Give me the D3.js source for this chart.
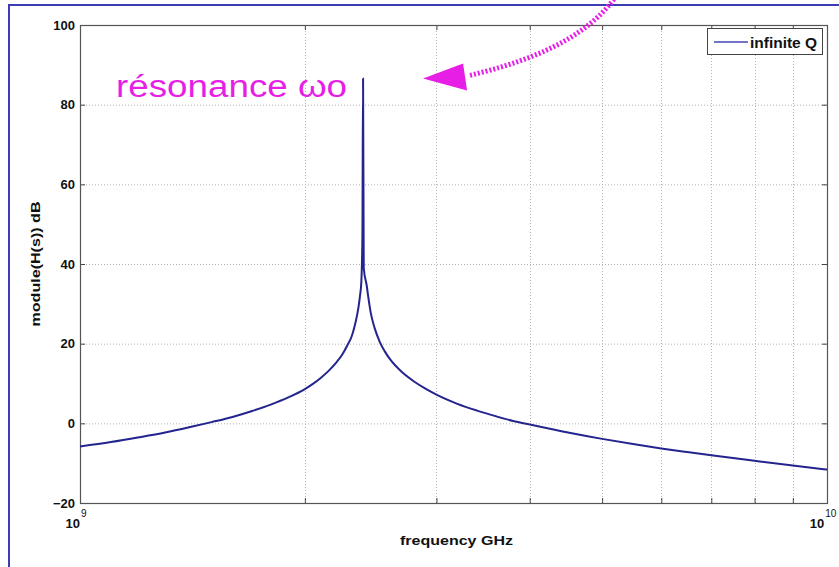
<!DOCTYPE html>
<html>
<head>
<meta charset="utf-8">
<script src="https://cdn.jsdelivr.net/npm/d3@7/dist/d3.min.js"></script>
<style>
  body { margin: 0; background: #ffffff; }
  text { font-family: "Liberation Sans", Arial, Helvetica, sans-serif; }
</style>
</head>
<body>
<svg id="chart" width="839" height="567"></svg>
<script>
// Frequency response of the resonator (frequency in GHz, magnitude in dB)
const freqGHz = [1.00, 1.10, 1.20, 1.30, 1.40, 1.50, 1.60, 1.70, 1.80, 1.90, 2.00, 2.05, 2.10, 2.15,
                 2.20, 2.25, 2.28, 2.31, 2.33, 2.35, 2.36, 2.37, 2.38, 2.388, 2.393, 2.398, 2.42,
                 2.43, 2.45, 2.48, 2.52, 2.56, 2.60, 2.70, 2.80, 2.90, 3.00, 3.20, 3.40, 3.60,
                 3.80, 4.00, 4.50, 5.00, 5.50, 6.00, 6.50, 7.00, 8.00, 9.00, 10.0];
const magDB = [-5.8, -4.7, -3.5, -2.3, -1.0, 0.3, 1.6, 3.1, 4.7, 6.5, 8.6, 9.9, 11.4, 13.1,
               15.1, 17.6, 19.6, 21.8, 24.2, 27.3, 29.3, 31.9, 35.4, 46.7, 86.6, 39.0, 34.6,
               32.1, 27.8, 23.9, 20.4, 18.0, 16.1, 12.8, 10.5, 8.7, 7.2, 4.9, 3.2, 1.8,
               0.6, -0.3, -2.3, -3.9, -5.2, -6.3, -7.2, -8.0, -9.4, -10.6, -11.6];

const seriesName = "infinite Q";
const yTicks = [-20, 0, 20, 40, 60, 80, 100];
const xMajor = [1e9, 1e10];
const xMinor = [2e9, 3e9, 4e9, 5e9, 6e9, 7e9, 8e9, 9e9];
const xLabel = "frequency GHz";
const yLabel = "module(H(s)) dB";
const note = "résonance ωo";

const svg = d3.select("#chart");
const W = 839, H = 567;
const plot = { left: 80, right: 827, top: 25, bottom: 503 };

const x = d3.scaleLog().domain([1e9, 1e10]).range([plot.left, plot.right]);
const y = d3.scaleLinear().domain([-20, 100]).range([plot.bottom, plot.top]);

// outer slide frame
svg.append("rect")
  .attr("x", 9).attr("y", 5).attr("width", W + 20).attr("height", H + 20)
  .attr("fill", "#ffffff").attr("stroke", "#3c3cb4").attr("stroke-width", 2);

// plot background
svg.append("rect")
  .attr("x", plot.left).attr("y", plot.top)
  .attr("width", plot.right - plot.left).attr("height", plot.bottom - plot.top)
  .attr("fill", "#ffffff");

// grid lines
const grid = svg.append("g").attr("stroke", "#b4b4b4").attr("stroke-width", 1)
  .attr("stroke-dasharray", "1,2");
grid.selectAll("line.gy").data(yTicks.filter(v => v > -20 && v < 100)).join("line")
  .attr("x1", plot.left).attr("x2", plot.right)
  .attr("y1", d => y(d) + 0.5).attr("y2", d => y(d) + 0.5);
grid.selectAll("line.gx").data(xMinor).join("line")
  .attr("x1", d => Math.round(x(d)) + 0.5).attr("x2", d => Math.round(x(d)) + 0.5)
  .attr("y1", plot.top).attr("y2", plot.bottom);

// axes with inward ticks
function styleAxis(g) {
  g.select(".domain").remove();
  g.selectAll(".tick line").attr("stroke", "#444");
  g.selectAll(".tick text").attr("font-weight", "bold").attr("font-size", 13)
    .attr("fill", "#111");
}
svg.append("g").attr("transform", `translate(${plot.left},0)`)
  .call(d3.axisLeft(y).tickValues(yTicks).tickSizeInner(-5).tickSizeOuter(0).tickPadding(5))
  .call(styleAxis);
svg.append("g").attr("transform", `translate(${plot.right},0)`)
  .call(d3.axisRight(y).tickValues(yTicks).tickSizeInner(-5).tickSizeOuter(0).tickFormat(""))
  .call(styleAxis);
svg.append("g").attr("transform", `translate(0,${plot.bottom})`)
  .call(d3.axisBottom(x).tickValues(xMinor).tickSizeInner(-5).tickSizeOuter(0).tickFormat(""))
  .call(styleAxis);
svg.append("g").attr("transform", `translate(0,${plot.top})`)
  .call(d3.axisTop(x).tickValues(xMinor).tickSizeInner(-5).tickSizeOuter(0).tickFormat(""))
  .call(styleAxis);

// plot box
svg.append("rect")
  .attr("x", plot.left + 0.5).attr("y", plot.top + 0.5)
  .attr("width", plot.right - plot.left).attr("height", plot.bottom - plot.top)
  .attr("fill", "none").attr("stroke", "#555").attr("stroke-width", 1.2);

// decade labels 10^n
const decade = svg.append("g").attr("fill", "#111");
xMajor.forEach(v => {
  const t = decade.append("text")
    .attr("x", x(v) - 4).attr("y", plot.bottom + 25)
    .attr("text-anchor", "middle").attr("font-weight", "bold").attr("font-size", 13);
  t.append("tspan").text("10");
  t.append("tspan").attr("dy", -11).attr("dx", 1).attr("font-size", 10)
    .attr("font-weight", "normal").text(Math.round(Math.log10(v)));
});

// axis titles
svg.append("text")
  .attr("x", (plot.left + plot.right) / 2 + 3).attr("y", 545)
  .attr("text-anchor", "middle").attr("font-weight", "bold").attr("font-size", 13)
  .attr("textLength", 113).attr("lengthAdjust", "spacingAndGlyphs")
  .attr("fill", "#111").text(xLabel);
svg.append("text")
  .attr("transform", `translate(40,${(plot.top + plot.bottom) / 2}) rotate(-90)`)
  .attr("text-anchor", "middle").attr("font-weight", "bold").attr("font-size", 13)
  .attr("textLength", 125).attr("lengthAdjust", "spacingAndGlyphs")
  .attr("fill", "#111").text(yLabel);

// response curve
const pts = freqGHz.map((f, i) => [f * 1e9, magDB[i]]);
svg.append("path")
  .datum(pts)
  .attr("fill", "none").attr("stroke", "#24248e").attr("stroke-width", 2)
  .attr("stroke-linejoin", "round")
  .attr("d", d3.line().x(d => x(d[0])).y(d => y(d[1])).curve(d3.curveMonotoneX));

// legend
const lg = svg.append("g");
lg.append("rect").attr("x", 707.5).attr("y", 28.5).attr("width", 115).attr("height", 26)
  .attr("fill", "#ffffff").attr("stroke", "#444").attr("stroke-width", 1);
lg.append("line").attr("x1", 714).attr("x2", 748).attr("y1", 42).attr("y2", 42)
  .attr("stroke", "#7474c4").attr("stroke-width", 2);
lg.append("text").attr("x", 750).attr("y", 48)
  .attr("font-weight", "bold").attr("font-size", 14)
  .attr("textLength", 67).attr("lengthAdjust", "spacingAndGlyphs")
  .attr("fill", "#111").text(seriesName);

// resonance annotation, placed from the peak sample
const peakIdx = d3.maxIndex(magDB);
const px = x(freqGHz[peakIdx] * 1e9), py = y(magDB[peakIdx]);
const magenta = "#e61ee6";
svg.append("text")
  .attr("x", px - 247).attr("y", py + 19)
  .attr("font-size", 31).attr("fill", magenta)
  .attr("textLength", 231).attr("lengthAdjust", "spacingAndGlyphs")
  .text(note);

const tipX = px + 60, tipY = py;
svg.append("path")
  .attr("d", `M${tipX + 47},${tipY - 3} C${tipX + 100},${tipY - 16} ${tipX + 160},${tipY - 36} ${tipX + 193},${tipY - 82}`)
  .attr("fill", "none").attr("stroke", magenta).attr("stroke-width", 5)
  .attr("stroke-dasharray", "2,2");
svg.append("path")
  .attr("d", `M${tipX},${tipY} L${tipX + 40},${tipY - 15} L${tipX + 44},${tipY + 12} Z`)
  .attr("fill", magenta);
</script>
</body>
</html>
